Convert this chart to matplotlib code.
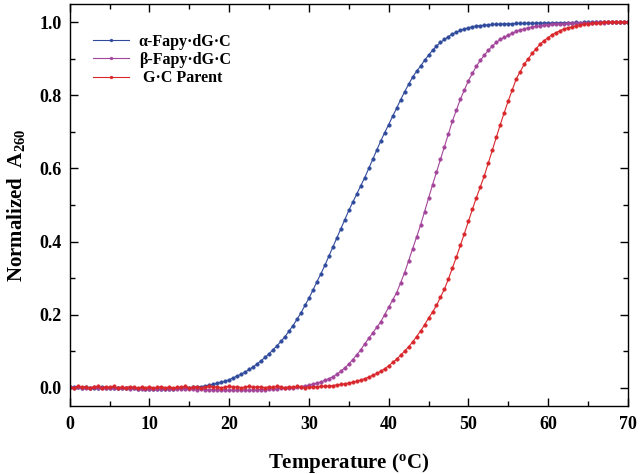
import numpy as np
import matplotlib
matplotlib.use("Agg")
import matplotlib.pyplot as plt
from matplotlib.ticker import MultipleLocator

plt.rcParams['font.family'] = ['Liberation Serif', 'DejaVu Serif']
plt.rcParams['font.weight'] = 'bold'
plt.rcParams['mathtext.fontset'] = 'custom'
plt.rcParams['mathtext.rm'] = 'Liberation Serif:bold'
plt.rcParams['mathtext.it'] = 'Liberation Serif:bold'
plt.rcParams['mathtext.bf'] = 'Liberation Serif:bold'

# Temperature grid (deg C), 0 to 70 in 0.5 steps
temperature = np.arange(0, 70.25, 0.5)

alpha_fapy = [
    0.002, 0.001, 0.002, 0.000, 0.001, 0.000, -0.001, 0.000, 0.001, -0.001,
    0.000, -0.001, 0.000, -0.002, -0.001, -0.002, -0.001, -0.003, -0.002, -0.003,
    -0.004, -0.003, -0.004, -0.003, -0.004, -0.003, -0.003, -0.002, -0.002, -0.001,
    0.000,
    0.001, 0.002, 0.003, 0.005, 0.007, 0.010, 0.012, 0.015, 0.018, 0.022,
    0.027, 0.032, 0.037, 0.043, 0.050, 0.057, 0.065, 0.074, 0.083, 0.093,
    0.104, 0.115, 0.127, 0.140, 0.155, 0.170, 0.187, 0.205, 0.225, 0.245,
    0.267, 0.290, 0.312, 0.335, 0.360, 0.385, 0.410, 0.435, 0.460, 0.485,
    0.508, 0.530, 0.553, 0.575, 0.600, 0.625, 0.650, 0.675, 0.698, 0.720,
    0.743, 0.765, 0.788, 0.810, 0.830, 0.850, 0.866, 0.880, 0.896, 0.910,
    0.923, 0.935, 0.945, 0.953, 0.961, 0.968, 0.973, 0.978, 0.982, 0.985,
    0.988, 0.990, 0.991, 0.992, 0.993, 0.994, 0.995, 0.995, 0.996, 0.996,
    0.996, 0.997, 0.997, 0.997, 0.998, 0.997, 0.998, 0.998, 0.998, 0.998,
    0.998, 0.999, 0.998, 0.999, 0.999, 0.999, 1.000, 0.999, 1.000, 1.000,
    1.000, 1.001, 1.000, 1.000, 1.001, 1.000, 1.000, 1.001, 1.000, 1.000,
]

beta_fapy = [
    0.001, 0.000, 0.001, 0.000, -0.001, 0.000, 0.001, 0.000, -0.001, 0.000,
    -0.001, -0.002, -0.001, -0.002, -0.002, -0.003, -0.002, -0.003, -0.003, -0.004,
    -0.003, -0.004, -0.004, -0.003, -0.004, -0.004, -0.003, -0.004, -0.003, -0.003,
    -0.004, -0.004, -0.005, -0.004, -0.005, -0.005, -0.006, -0.005, -0.006, -0.006,
    -0.007, -0.006, -0.007, -0.006, -0.007, -0.007, -0.006, -0.006, -0.005, -0.005,
    -0.004, -0.004, -0.003, -0.002, -0.002, -0.001,
    0.000, 0.001, 0.003, 0.005, 0.007, 0.010, 0.013, 0.016, 0.020, 0.025,
    0.030, 0.037, 0.045, 0.054, 0.065, 0.077, 0.090, 0.104, 0.120, 0.135,
    0.150, 0.165, 0.180, 0.200, 0.220, 0.240, 0.260, 0.287, 0.315, 0.347,
    0.380, 0.412, 0.445, 0.482, 0.520, 0.555, 0.590, 0.625, 0.660, 0.695,
    0.730, 0.760, 0.790, 0.815, 0.840, 0.860, 0.880, 0.896, 0.910, 0.923,
    0.935, 0.945, 0.953, 0.959, 0.965, 0.970, 0.975, 0.979, 0.982, 0.985,
    0.987, 0.989, 0.990, 0.992, 0.993, 0.994, 0.995, 0.995, 0.996, 0.997,
    0.997, 0.998, 0.998, 0.999, 0.999,
    0.999, 1.000, 1.000, 0.999, 1.000, 1.000, 1.001, 1.000, 1.000, 1.000,
]

gc_parent = [
    0.003, 0.000, 0.004, 0.001, 0.003, -0.001, 0.002, 0.004, 0.000, 0.003,
    0.001, 0.004, -0.001, 0.002, 0.000, 0.003, 0.001, -0.001, 0.002, 0.000,
    0.003, -0.001, 0.001, 0.003, 0.000, 0.002, -0.001, 0.002, 0.001, 0.004,
    0.000, 0.002, 0.003, 0.000, 0.002, 0.004, 0.001, 0.003, 0.000, 0.002,
    0.004, 0.001, 0.003, 0.000, 0.002, 0.004, 0.001, 0.003, 0.002, 0.000,
    0.003, 0.001, 0.004, 0.002, 0.000, 0.003, 0.001, 0.004, 0.002, 0.000,
    0.003,
    0.002, 0.003, 0.004, 0.004, 0.005, 0.006, 0.008, 0.009, 0.011, 0.013,
    0.015, 0.018, 0.021, 0.025, 0.029, 0.034, 0.039, 0.045, 0.052, 0.060,
    0.069, 0.078, 0.089, 0.100, 0.112, 0.125, 0.140, 0.155, 0.172, 0.190,
    0.207, 0.225, 0.248, 0.270, 0.298, 0.328, 0.358, 0.390, 0.422, 0.455,
    0.488, 0.520, 0.550, 0.580, 0.615, 0.650, 0.685, 0.720, 0.753, 0.785,
    0.815, 0.845, 0.865, 0.885, 0.900, 0.915, 0.928, 0.940, 0.950, 0.958,
    0.966, 0.972, 0.977, 0.982, 0.985, 0.988, 0.991, 0.993, 0.995, 0.996,
    0.997, 0.998, 0.999, 1.000,
    1.001, 1.000, 1.002, 1.000, 1.001, 1.000,
]

labels = ["\u03b1-Fapy\u00b7dG\u00b7C", "\u03b2-Fapy\u00b7dG\u00b7C", " G\u00b7C Parent"]
colors = ["#2f4a9c", "#a3449b", "#d8262b"]
series = [alpha_fapy, beta_fapy, gc_parent]

fig = plt.figure(figsize=(6.4, 4.74), dpi=100)
ax = fig.add_axes([0.109, 0.1435, 0.872, 0.848])

for vals, col, lab in zip(series, colors, labels):
    ax.plot(temperature, vals, color=col, lw=0.8, marker='o', ms=2.6,
            mec=col, mfc=col, mew=0.3, label=lab)

ax.set_xlim(0, 70)
ax.set_ylim(-0.05, 1.05)
ax.xaxis.set_major_locator(MultipleLocator(10))
ax.xaxis.set_minor_locator(MultipleLocator(5))
ax.yaxis.set_major_locator(MultipleLocator(0.2))
ax.yaxis.set_minor_locator(MultipleLocator(0.1))
ax.yaxis.set_major_formatter(matplotlib.ticker.FormatStrFormatter('%.1f'))

ax.tick_params(which='both', direction='in', top=True, right=True, width=1.0)
ax.tick_params(which='major', length=6)
ax.tick_params(which='minor', length=3.5)
ax.tick_params(axis='x', which='major', pad=7, labelsize=13)
ax.tick_params(axis='y', which='major', pad=6, labelsize=13)
for lab in ax.get_xticklabels() + ax.get_yticklabels():
    lab.set_fontweight('bold')
for sp in ax.spines.values():
    sp.set_linewidth(1.0)

ax.set_xlabel("Temperature ($\\mathregular{^o}$C)", fontsize=15,
              fontweight='bold', labelpad=13)
ax.set_ylabel("Normalized  A$\\mathregular{_{260}}$", fontsize=15,
              fontweight='bold', labelpad=9)

leg = ax.legend(loc='upper left', bbox_to_anchor=(0.015, 0.962), frameon=False,
                fontsize=11.5, handlelength=2.3, handletextpad=0.6,
                labelspacing=0.15, markerscale=0.8)
for t in leg.get_texts():
    t.set_fontweight('bold')

fig.savefig("out.png", dpi=100)
